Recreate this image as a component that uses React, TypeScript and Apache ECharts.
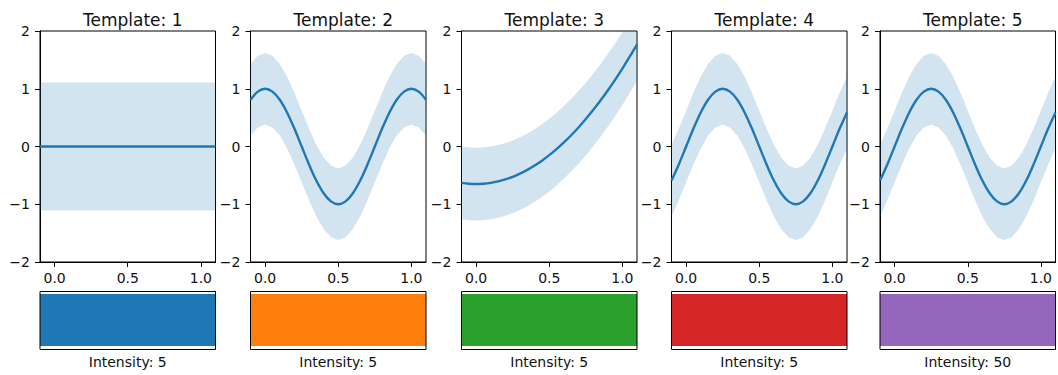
import React, { useEffect, useRef } from "react";
import * as echarts from "echarts";

const xs = [-0.1, -0.05, 0, 0.05, 0.1, 0.15, 0.2, 0.25, 0.3, 0.35, 0.4, 0.45, 0.5, 0.55, 0.6, 0.65, 0.7, 0.75, 0.8, 0.85, 0.9, 0.95, 1.0, 1.05, 1.1];

const mean1 = [0, 0, 0, 0, 0, 0, 0, 0, 0, 0, 0, 0, 0, 0, 0, 0, 0, 0, 0, 0, 0, 0, 0, 0, 0];
const mean2 = [0.81, 0.95, 1, 0.95, 0.81, 0.59, 0.31, 0, -0.31, -0.59, -0.81, -0.95, -1, -0.95, -0.81, -0.59, -0.31, 0, 0.31, 0.59, 0.81, 0.95, 1, 0.95, 0.81];
const mean3 = [-0.63, -0.645, -0.65, -0.645, -0.63, -0.605, -0.57, -0.525, -0.47, -0.405, -0.33, -0.245, -0.15, -0.045, 0.07, 0.195, 0.33, 0.475, 0.63, 0.795, 0.97, 1.155, 1.35, 1.555, 1.77];
const mean4 = [-0.59, -0.31, 0, 0.31, 0.59, 0.81, 0.95, 1, 0.95, 0.81, 0.59, 0.31, 0, -0.31, -0.59, -0.81, -0.95, -1, -0.95, -0.81, -0.59, -0.31, 0, 0.31, 0.59];
const mean5 = [-0.59, -0.31, 0, 0.31, 0.59, 0.81, 0.95, 1, 0.95, 0.81, 0.59, 0.31, 0, -0.31, -0.59, -0.81, -0.95, -1, -0.95, -0.81, -0.59, -0.31, 0, 0.31, 0.59];

const means = [mean1, mean2, mean3, mean4, mean5];
const bandHalfWidths = [1.11, 0.62, 0.63, 0.62, 0.62];
const templateNames = ["Template: 1", "Template: 2", "Template: 3", "Template: 4", "Template: 5"];
const intensities = [5, 5, 5, 5, 50];
const swatchColors = ["#1f77b4", "#ff7f0e", "#2ca02c", "#d62728", "#9467bd"];
const xTicks = [0, 0.5, 1.0];

const FONT = "DejaVu Sans";
const LEFTS = [40, 250.5, 461.5, 671.5, 880];
const W = 175.5;
const TOP = 31;
const H = 231;
const SW_TOP = 291.5;
const SW_BOT = 349.5;

export default function App() {
  const ref = useRef<HTMLDivElement>(null);
  useEffect(() => {
    if (!ref.current) return;
    const chart = echarts.init(ref.current, undefined, { renderer: "svg" });
    const grids: any[] = [];
    const xAxes: any[] = [];
    const yAxes: any[] = [];
    const series: any[] = [];
    const titles: any[] = [];
    const graphics: any[] = [];
    for (let i = 0; i < 5; i++) {
      grids.push({ left: LEFTS[i], top: TOP, width: W, height: H, show: true, borderColor: "#000", borderWidth: 1, backgroundColor: "transparent" });
      xAxes.push({
        gridIndex: i, type: "value", min: -0.1, max: 1.1,
        axisLine: { show: true, onZero: false, lineStyle: { color: "#000", width: 1 } },
        axisTick: { show: true, length: 5, customValues: xTicks, lineStyle: { color: "#000" } },
        axisLabel: { customValues: xTicks, margin: 9, color: "#111", fontFamily: FONT, fontSize: 14, formatter: (v: number) => v.toFixed(1) },
        splitLine: { show: false },
      });
      yAxes.push({
        gridIndex: i, type: "value", min: -2, max: 2, interval: 1,
        axisLine: { show: true, onZero: false, lineStyle: { color: "#000", width: 1 } },
        axisTick: { show: true, length: 5, lineStyle: { color: "#000" } },
        axisLabel: { margin: 10, color: "#111", fontFamily: FONT, fontSize: 14, formatter: (v: number) => String(v).replace("-", "\u2212") },
        splitLine: { show: false },
      });
      const m = means[i];
      const w = bandHalfWidths[i];
      const bandData = xs.map((x, k) => [x, m[k] - w, m[k] + w]);
      series.push({
        type: "custom", xAxisIndex: i, yAxisIndex: i, clip: true, silent: true,
        data: bandData,
        encode: { x: 0, y: [1, 2] },
        renderItem: (params: any, api: any) => {
          if (params.dataIndex !== 0) return null;
          const upper = bandData.map((d) => api.coord([d[0], d[2]]));
          const lower = bandData.map((d) => api.coord([d[0], d[1]])).reverse();
          return {
            type: "polygon",
            shape: { points: upper.concat(lower) },
            style: { fill: "rgba(31,119,180,0.2)", stroke: "none" },
          };
        },
        z: 1,
      });
      series.push({
        type: "line", xAxisIndex: i, yAxisIndex: i,
        data: xs.map((x, k) => [x, m[k]]), symbol: "none", smooth: 0.3,
        lineStyle: { color: "#1f77b4", width: 2.4 }, z: 3,
      });
      titles.push({
        text: templateNames[i], left: LEFTS[i] + W / 2, top: 6, textAlign: "center",
        textStyle: { fontFamily: FONT, fontSize: 17, fontWeight: "normal", color: "#111" },
      });
      graphics.push({
        type: "rect", shape: { x: LEFTS[i], y: 294, width: W, height: 52 },
        style: { fill: swatchColors[i] },
      });
      graphics.push({
        type: "rect", shape: { x: LEFTS[i], y: SW_TOP, width: W, height: SW_BOT - SW_TOP },
        style: { fill: "none", stroke: "#000", lineWidth: 1 },
      });
      graphics.push({
        type: "text", x: LEFTS[i] + W / 2, y: 362,
        style: { text: "Intensity: " + intensities[i], fontFamily: FONT, fontSize: 14, fill: "#111", align: "center", verticalAlign: "middle" },
      });
    }
    chart.setOption({
      animation: false,
      backgroundColor: "#fff",
      title: titles,
      grid: grids,
      xAxis: xAxes,
      yAxis: yAxes,
      series,
      graphic: graphics,
    });
    return () => chart.dispose();
  }, []);
  return <div ref={ref} style={{ position: "fixed", left: 0, top: 0, width: 1058, height: 375 }} />;
}
